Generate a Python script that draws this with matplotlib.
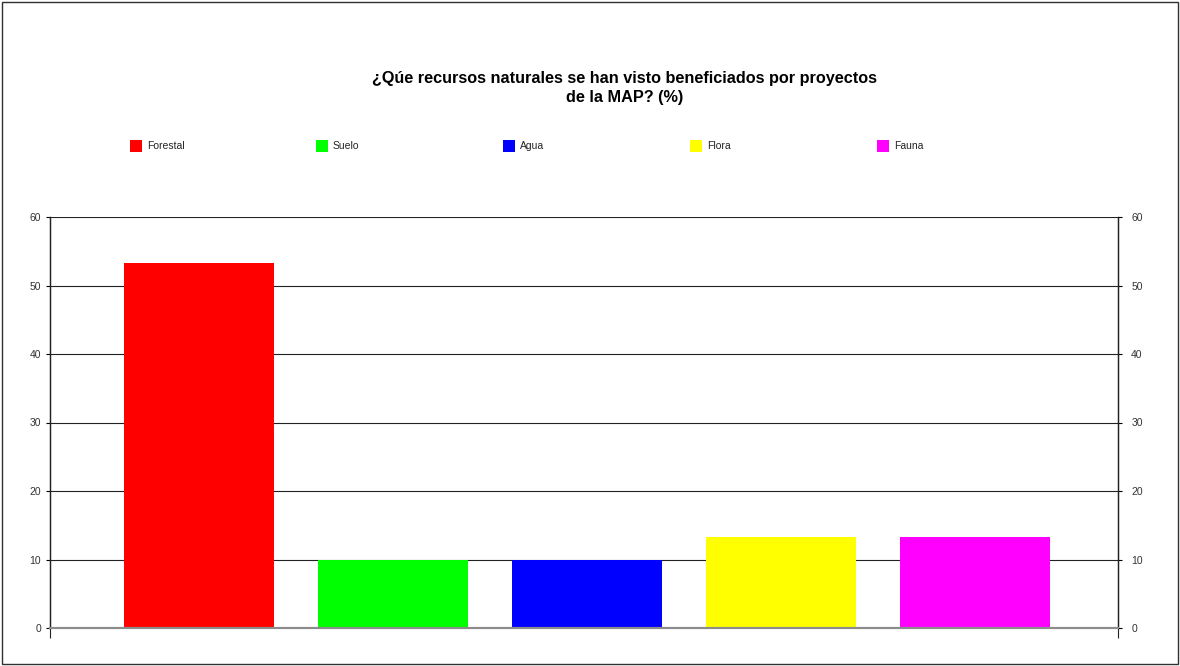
import matplotlib.pyplot as plt
from matplotlib.patches import Rectangle

plt.rcParams['font.family'] = ['Liberation Sans', 'DejaVu Sans']

# Data
categorias = ['Forestal', 'Suelo', 'Agua', 'Flora', 'Fauna']
porcentajes = [53.3, 10.0, 10.0, 13.3, 13.3]
colores = ['#ff0000', '#00ff00', '#0000ff', '#ffff00', '#ff00ff']
yticks = [0, 10, 20, 30, 40, 50, 60]
titulo = '¿Qúe recursos naturales se han visto beneficiados por proyectos\nde la MAP? (%)'

W, H = 1180, 666
fig = plt.figure(figsize=(W / 100, H / 100), dpi=100)

# outer frame
fig.patches.append(Rectangle((2 / W, 2 / H), 1176 / W, 662 / H, transform=fig.transFigure,
                             fill=False, edgecolor='#303030', linewidth=1.0))

ax = fig.add_axes([50 / W, 1 - 628 / H, 1068 / W, 411 / H])
x = list(range(len(categorias)))
ax.bar(x, porcentajes, width=0.773, color=colores, edgecolor='none', zorder=2)

xmin, xmax = -0.768, 4.737
ax.set_xlim(xmin, xmax)
ax.set_ylim(0, 60)
ax.set_yticks(yticks)
ax.yaxis.grid(True, color='#222222', linewidth=0.8, zorder=1)
ax.set_axisbelow(True)

ax.tick_params(axis='y', direction='out', length=3, width=0.8,
               labelsize=7.5, labelcolor='#333333', pad=3.5)
ax.set_xticks([xmin, xmax])
ax.set_xticklabels(['', ''])
ax.tick_params(axis='x', direction='out', length=7.5, width=0.8, color='#222222')

# right-hand value axis
ax2 = ax.twinx()
ax2.set_ylim(0, 60)
ax2.set_yticks(yticks)
ax2.tick_params(axis='y', direction='out', length=3, width=0.8,
                labelsize=7.5, labelcolor='#333333', pad=6.5)

for a in (ax, ax2):
    for s in ['left', 'right']:
        a.spines[s].set_color('#222222')
        a.spines[s].set_linewidth(0.9)
    a.spines['top'].set_visible(False)
    a.spines['bottom'].set_color('#8c8c8c')
    a.spines['bottom'].set_linewidth(1.5)

fig.text(625 / W, 1 - 88 / H, titulo, ha='center', va='center', fontsize=11.7,
         fontweight='bold', linespacing=1.38)

# legend row
legend_x = [130, 316, 503, 690, 877]
for px, nombre, c in zip(legend_x, categorias, colores):
    fig.patches.append(Rectangle((px / W, 1 - 152 / H), 12 / W, 12 / H,
                                 transform=fig.transFigure, facecolor=c, edgecolor='none'))
    fig.text((px + 17) / W, 1 - 146 / H, nombre, ha='left', va='center',
             fontsize=7.5, color='#222222')

fig.savefig('out.png', dpi=100)
